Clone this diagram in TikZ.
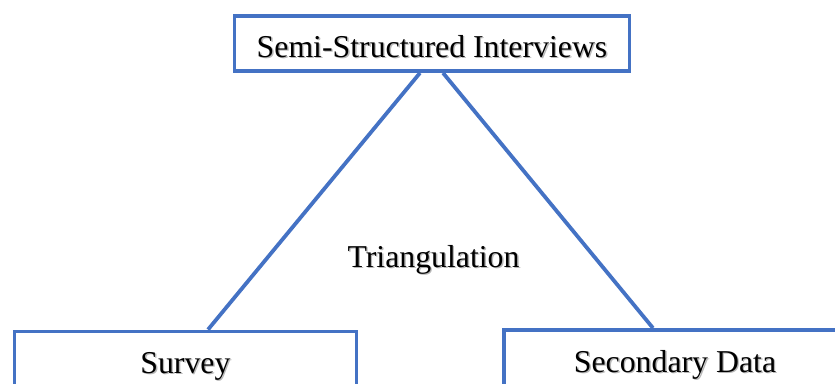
\documentclass[tikz,border=0pt]{standalone}
\usepackage{fontspec}
\setmainfont{Liberation Serif}
\definecolor{boxblue}{HTML}{4472C4}
% text with a soft grey drop shadow
\newcommand\shadowed[1]{%
  \makebox[0pt][l]{\kern1.4pt\raisebox{-1.4pt}{\color{black!28}#1}}#1}
\begin{document}
\begin{tikzpicture}[x=1pt,y=-1pt,
  every node/.style={font=\fontsize{31.8}{38}\selectfont},
  methodbox/.style={draw=boxblue, line width=3.8pt, inner sep=0pt,
    anchor=base, align=center, text depth=14pt},
  link/.style={boxblue, line width=3.8pt}]
  \useasboundingbox (0,0) rectangle (835,383);
  \clip (0,0) rectangle (835,383);

  \node[methodbox, minimum width=395pt, text height=41pt] (top) at (432,57)
    {\shadowed{Semi-Structured Interviews}};
  \node[methodbox, minimum width=342pt, text height=41.5pt] (survey) at (185.4,373)
    {\shadowed{Survey}};
  \node[methodbox, minimum width=342pt, text height=42pt] (secondary) at (675,372)
    {\shadowed{Secondary Data}};

  \node[anchor=base, inner sep=0pt] (tri) at (433.5,267) {\shadowed{Triangulation}};

  \draw[link] ([xshift=-12pt]top.south) -- ([xshift=22.6pt]survey.north);
  \draw[link] ([xshift=11pt]top.south) -- ([xshift=-22pt]secondary.north);
\end{tikzpicture}
\end{document}
